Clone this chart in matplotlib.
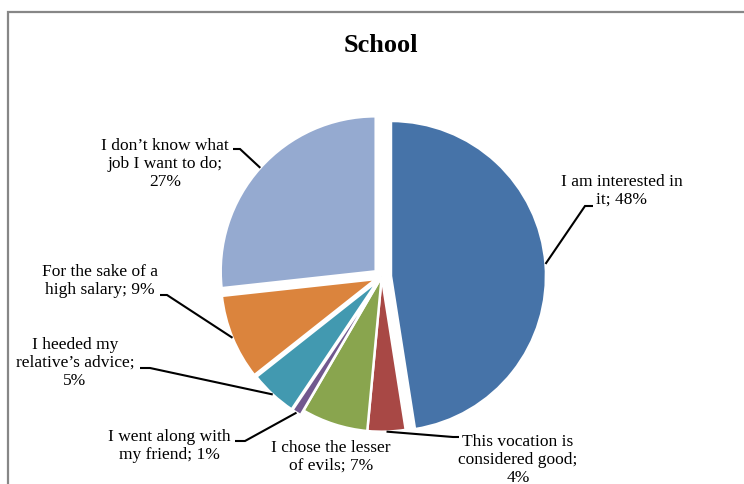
import numpy as np
import matplotlib
matplotlib.use("Agg")
import matplotlib.pyplot as plt
from matplotlib.patches import Rectangle

# survey answers, clockwise from 12 o'clock
answers = [
    "I am interested in\nit",
    "This vocation is\nconsidered good;\n",
    "I chose the lesser\nof evils",
    "I went along with\nmy friend",
    "I heeded my\nrelative\u2019s advice;\n",
    "For the sake of a\nhigh salary",
    "I don\u2019t know what\njob I want to do;\n",
]
shares = [48, 4, 7, 1, 5, 9, 27]
colors = ["#4673A8", "#A84845", "#89A54E", "#71588F", "#4299B0", "#DB843D", "#95AAD0"]
explode = [0.06, 0, 0, 0.035, 0.035, 0.04, 0.052]   # fraction of radius

W, H = 744, 484
plt.rcParams["font.family"] = ["Liberation Serif", "DejaVu Serif"]

fig = plt.figure(figsize=(W / 100, H / 100), dpi=100)
ax = fig.add_axes([0, 0, 1, 1])


def px(x, y):
    """pixel position (origin top-left) -> data coords"""
    return x, H - y


cx, cy = px(381.7, 276.7)
R = 155
wedges, _ = ax.pie(shares, colors=colors, explode=[e * R for e in explode],
                   startangle=90, counterclock=False, center=(cx, cy), radius=R,
                   wedgeprops=dict(edgecolor="white", linewidth=1.8))
ax.set_xlim(0, W)
ax.set_ylim(0, H)
ax.set_aspect("equal")
ax.axis("off")

# chart-area frame (runs off the right/bottom edges)
ax.add_patch(Rectangle(px(8, 500), W + 20, 488, fill=False,
                       edgecolor="#878787", linewidth=1.6, clip_on=True))

ax.text(*px(381, 45), "School", ha="center", va="center",
        fontsize=19, fontweight="bold")

# label text centre, leader elbow, leader end (None = no leader)
label_pos = [(622, 191), (518, 460), (331, 457), (169, 446), (75, 363), (100, 281), (165, 164)]
elbows = [(585, 206), (453, 437), None, (245, 441), (150, 368), (167, 295), (240, 149)]
ends = [(593, 206), (459, 437), None, (235, 441), (140, 368), (160, 295), (233, 149)]

for w, name, val, pos, elb, end in zip(wedges, answers, shares, label_pos, elbows, ends):
    if name.endswith("\n"):
        label = f"{name}{val}%"
    else:
        label = f"{name}; {val}%"
    ax.text(*px(*pos), label, ha="center", va="center", fontsize=12.5,
            linespacing=1.15)
    if elb is None:
        continue
    mid = np.deg2rad((w.theta1 + w.theta2) / 2)
    ax0 = w.center[0] + w.r * np.cos(mid)
    ay0 = w.center[1] + w.r * np.sin(mid)
    ex, ey = px(*elb)
    fx, fy = px(*end)
    ax.plot([ax0, ex, fx], [ay0, ey, fy], color="black", linewidth=1.5,
            solid_capstyle="butt", solid_joinstyle="miter")

fig.savefig("out.png", dpi=100)
